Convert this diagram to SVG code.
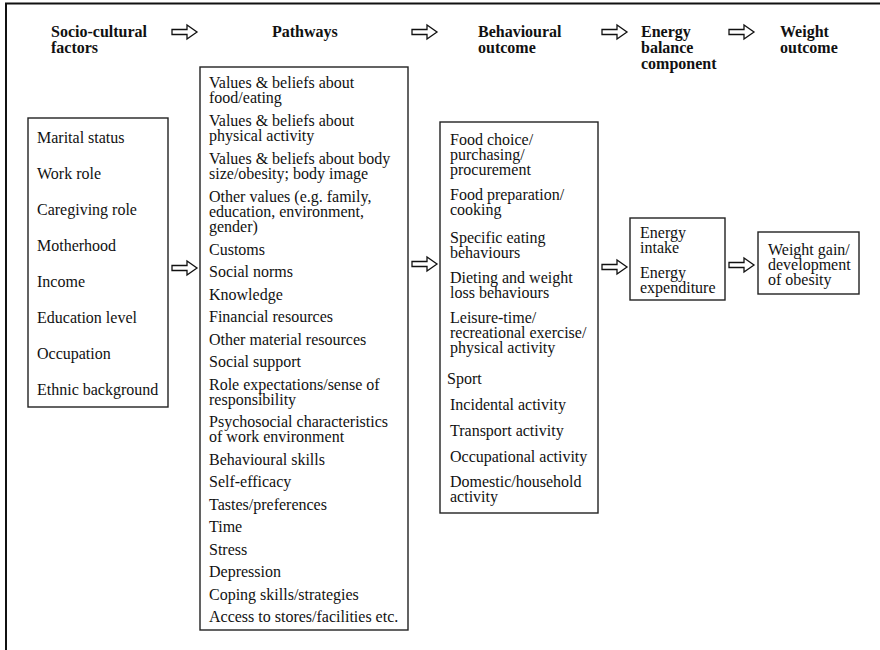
<svg xmlns="http://www.w3.org/2000/svg" xmlns:xlink="http://www.w3.org/1999/xlink" width="880" height="650" viewBox="0 0 880 650">
<style>
.h{font-family:"Liberation Serif","Times New Roman",serif;font-size:16px;font-weight:bold;fill:#111}
.t{font-family:"Liberation Serif","Times New Roman",serif;font-size:16px;fill:#111}
.box{fill:#fff;stroke:#222;stroke-width:1.4}
.arr{fill:#fff;stroke:#111;stroke-width:1.3;stroke-linejoin:miter}
.frame{stroke:#111;stroke-width:2;fill:none}
</style>
<defs>
<path id="dbl" d="M0,-2.5 H15 V-7 L25,0 L15,7 V2.5 H0 Z"/>
</defs>
<rect width="880" height="650" fill="#fff"/>
<path class="frame" d="M6,650 V3.5 H880"/>

<g id="headers">
<text class="h" x="51" y="37">Socio-cultural</text>
<text class="h" x="51" y="53">factors</text>
<text class="h" x="272" y="37">Pathways</text>
<text class="h" x="478" y="37">Behavioural</text>
<text class="h" x="478" y="53">outcome</text>
<text class="h" x="641" y="37">Energy</text>
<text class="h" x="641" y="53">balance</text>
<text class="h" x="641" y="69">component</text>
<text class="h" x="780" y="37">Weight</text>
<text class="h" x="780" y="53">outcome</text>
</g>

<g id="connectors">
<use href="#dbl" class="arr" transform="translate(172,32)"/>
<use href="#dbl" class="arr" transform="translate(412,32)"/>
<use href="#dbl" class="arr" transform="translate(602,32)"/>
<use href="#dbl" class="arr" transform="translate(729,32)"/>
<use href="#dbl" class="arr" transform="translate(172,268)"/>
<use href="#dbl" class="arr" transform="translate(412,264)"/>
<use href="#dbl" class="arr" transform="translate(602,267)"/>
<use href="#dbl" class="arr" transform="translate(729,265)"/>
</g>

<g id="socio-cultural">
<rect class="box" x="28" y="118" width="140" height="289"/>
<text class="t" x="37">
<tspan x="37" y="143">Marital status</tspan>
<tspan x="37" y="179">Work role</tspan>
<tspan x="37" y="215">Caregiving role</tspan>
<tspan x="37" y="251">Motherhood</tspan>
<tspan x="37" y="287">Income</tspan>
<tspan x="37" y="323">Education level</tspan>
<tspan x="37" y="359">Occupation</tspan>
<tspan x="37" y="395">Ethnic background</tspan>
</text>
</g>

<g id="pathways">
<rect class="box" x="200" y="67" width="208" height="563"/>
<text class="t">
<tspan x="209" y="88">Values &amp; beliefs about</tspan>
<tspan x="209" y="103">food/eating</tspan>
<tspan x="209" y="126">Values &amp; beliefs about</tspan>
<tspan x="209" y="141">physical activity</tspan>
<tspan x="209" y="164">Values &amp; beliefs about body</tspan>
<tspan x="209" y="179">size/obesity; body image</tspan>
<tspan x="209" y="202">Other values (e.g. family,</tspan>
<tspan x="209" y="217">education, environment,</tspan>
<tspan x="209" y="232">gender)</tspan>
<tspan x="209" y="255">Customs</tspan>
<tspan x="209" y="277">Social norms</tspan>
<tspan x="209" y="300">Knowledge</tspan>
<tspan x="209" y="322">Financial resources</tspan>
<tspan x="209" y="345">Other material resources</tspan>
<tspan x="209" y="367">Social support</tspan>
<tspan x="209" y="390">Role expectations/sense of</tspan>
<tspan x="209" y="405">responsibility</tspan>
<tspan x="209" y="427">Psychosocial characteristics</tspan>
<tspan x="209" y="442">of work environment</tspan>
<tspan x="209" y="465">Behavioural skills</tspan>
<tspan x="209" y="487">Self-efficacy</tspan>
<tspan x="209" y="510">Tastes/preferences</tspan>
<tspan x="209" y="532">Time</tspan>
<tspan x="209" y="555">Stress</tspan>
<tspan x="209" y="577">Depression</tspan>
<tspan x="209" y="600">Coping skills/strategies</tspan>
<tspan x="209" y="622">Access to stores/facilities etc.</tspan>
</text>
</g>

<g id="behavioural">
<rect class="box" x="440" y="122" width="158" height="391"/>
<text class="t">
<tspan x="450" y="145">Food choice/</tspan>
<tspan x="450" y="160">purchasing/</tspan>
<tspan x="450" y="175">procurement</tspan>
<tspan x="450" y="200">Food preparation/</tspan>
<tspan x="450" y="215">cooking</tspan>
<tspan x="450" y="243">Specific eating</tspan>
<tspan x="450" y="258">behaviours</tspan>
<tspan x="450" y="283">Dieting and weight</tspan>
<tspan x="450" y="298">loss behaviours</tspan>
<tspan x="450" y="323">Leisure-time/</tspan>
<tspan x="450" y="338">recreational exercise/</tspan>
<tspan x="450" y="353">physical activity</tspan>
<tspan x="447" y="384">Sport</tspan>
<tspan x="450" y="410">Incidental activity</tspan>
<tspan x="450" y="436">Transport activity</tspan>
<tspan x="450" y="462">Occupational activity</tspan>
<tspan x="450" y="487">Domestic/household</tspan>
<tspan x="450" y="502">activity</tspan>
</text>
</g>

<g id="energy">
<rect class="box" x="630" y="218" width="95" height="82"/>
<text class="t">
<tspan x="640" y="238">Energy</tspan>
<tspan x="640" y="253">intake</tspan>
<tspan x="640" y="278">Energy</tspan>
<tspan x="640" y="293">expenditure</tspan>
</text>
</g>

<g id="weight">
<rect class="box" x="758" y="232" width="101" height="62"/>
<text class="t">
<tspan x="768" y="255">Weight gain/</tspan>
<tspan x="768" y="270">development</tspan>
<tspan x="768" y="285">of obesity</tspan>
</text>
</g>
</svg>
